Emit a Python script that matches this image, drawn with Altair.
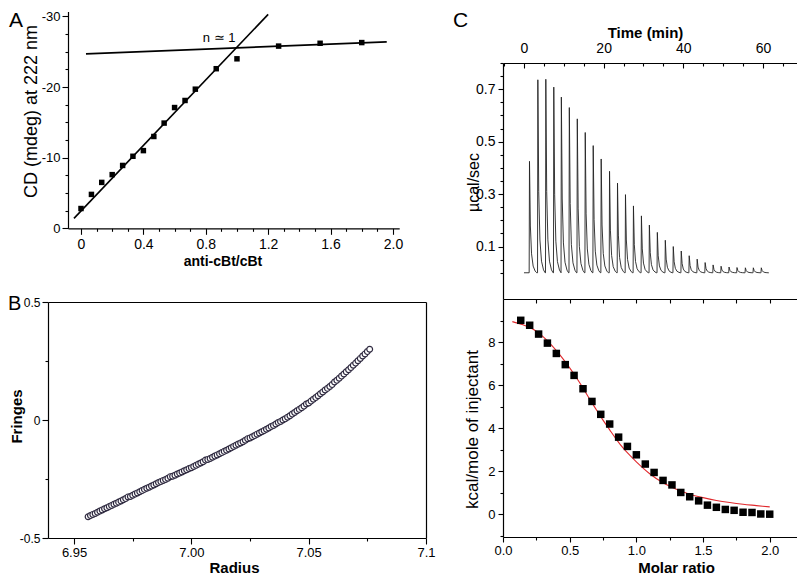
import altair as alt
import pandas as pd

W, H = 789, 568
FONT = "Liberation Sans"

# ---------------- Panel A (CD titration) ----------------
ratio_A = [0, 0.067, 0.133, 0.2, 0.267, 0.333, 0.4, 0.467, 0.533, 0.6, 0.667,
           0.733, 0.867, 1.0, 1.267, 1.533, 1.8]
cd_A = [-2.8, -4.8, -6.5, -7.6, -8.9, -10.2, -11.0, -13.0, -14.9, -17.1, -18.1,
        -19.7, -22.6, -24.0, -25.8, -26.2, -26.3]
fit_seg = ["rise", "rise", "plateau", "plateau"]
fit_x_A = [-0.045, 1.20, 0.032, 1.96]
fit_y_A = [-1.4, -30.3, -24.7, -26.4]
note_x_A = [0.885]
note_y_A = [-26.9]
note_text_A = ["n \u2243 1"]

# ---------------- Panel B (AUC fringes) ----------------
radius_B = [6.956, 6.957, 6.958, 6.959, 6.960, 6.961, 6.962, 6.963, 6.964, 6.965,
            6.966, 6.967, 6.968, 6.969, 6.970, 6.971, 6.972, 6.973, 6.974, 6.975,
            6.976, 6.977, 6.978, 6.979, 6.980, 6.981, 6.982, 6.983, 6.984, 6.985,
            6.986, 6.987, 6.988, 6.989, 6.990, 6.991, 6.992, 6.993, 6.994, 6.995,
            6.996, 6.997, 6.998, 6.999, 7.000, 7.001, 7.002, 7.003, 7.004, 7.005,
            7.006, 7.007, 7.008, 7.009, 7.010, 7.011, 7.012, 7.013, 7.014, 7.015,
            7.016, 7.017, 7.018, 7.019, 7.020, 7.021, 7.022, 7.023, 7.024, 7.025,
            7.026, 7.027, 7.028, 7.029, 7.030, 7.031, 7.032, 7.033, 7.034, 7.035,
            7.036, 7.037, 7.038, 7.039, 7.040, 7.041, 7.042, 7.043, 7.044, 7.045,
            7.046, 7.047, 7.048, 7.049, 7.050, 7.051, 7.052, 7.053, 7.054, 7.055,
            7.056, 7.057, 7.058, 7.059, 7.060, 7.061, 7.062, 7.063, 7.064, 7.065,
            7.066, 7.067, 7.068, 7.069, 7.070, 7.071, 7.072, 7.073, 7.074, 7.075,
            7.076]
fringes_B = [-0.410, -0.405, -0.400, -0.396, -0.391, -0.386, -0.381, -0.376, -0.372, -0.367,
             -0.362, -0.357, -0.353, -0.348, -0.343, -0.338, -0.333, -0.326, -0.324, -0.319,
             -0.314, -0.309, -0.304, -0.299, -0.294, -0.289, -0.285, -0.280, -0.275, -0.270,
             -0.265, -0.261, -0.256, -0.252, -0.247, -0.240, -0.238, -0.234, -0.229, -0.225,
             -0.220, -0.215, -0.211, -0.206, -0.202, -0.197, -0.192, -0.187, -0.182, -0.177,
             -0.170, -0.167, -0.163, -0.158, -0.153, -0.148, -0.143, -0.138, -0.133, -0.128,
             -0.123, -0.118, -0.112, -0.107, -0.102, -0.097, -0.092, -0.086, -0.079, -0.076,
             -0.071, -0.066, -0.060, -0.055, -0.050, -0.045, -0.039, -0.034, -0.028, -0.023,
             -0.017, -0.011, -0.006, 0.000, 0.005, 0.012, 0.018, 0.025, 0.032, 0.039,
             0.045, 0.052, 0.059, 0.068, 0.072, 0.080, 0.088, 0.095, 0.103, 0.111,
             0.119, 0.127, 0.134, 0.142, 0.150, 0.161, 0.168, 0.177, 0.186, 0.195,
             0.204, 0.213, 0.222, 0.232, 0.241, 0.251, 0.261, 0.271, 0.280, 0.290,
             0.300]

# ---------------- Panel C top (ITC raw heat) ----------------
inj_time = [1.3, 3.4, 5.4, 7.4, 9.3, 11.3, 13.3, 15.3, 17.3, 19.3, 21.4, 23.4, 25.4,
            27.4, 29.4, 31.4, 33.4, 35.4, 37.4, 39.4, 41.4, 43.4, 45.4, 47.4, 49.4,
            51.4, 53.4, 55.5, 57.5, 59.5]
peak_height = [0.425, 0.736, 0.738, 0.708, 0.670, 0.630, 0.587, 0.535, 0.485, 0.434,
               0.387, 0.342, 0.298, 0.255, 0.217, 0.182, 0.154, 0.124, 0.100, 0.083,
               0.065, 0.052, 0.039, 0.030, 0.025, 0.022, 0.020, 0.019, 0.019, 0.019]
peak_shape_dt = [0.0, 0.08, 0.3, 0.6, 1.0, 1.5, 1.9]
peak_shape_frac = [0.0, 1.0, 0.42, 0.17, 0.06, 0.015, 0.0]
baseline_time = [0.0, 61.3]

# ---------------- Panel C bottom (ITC isotherm) ----------------
molar = [0.133, 0.2, 0.267, 0.333, 0.4, 0.467, 0.533, 0.6, 0.667, 0.733, 0.8, 0.867,
         0.933, 1.0, 1.067, 1.133, 1.2, 1.267, 1.333, 1.4, 1.467, 1.533, 1.6, 1.667,
         1.733, 1.8, 1.867, 1.933, 2.0]
kcal = [9.01, 8.78, 8.37, 7.95, 7.47, 6.95, 6.45, 5.83, 5.24, 4.64, 4.19, 3.58,
        3.15, 2.76, 2.33, 1.94, 1.57, 1.36, 1.01, 0.81, 0.62, 0.42, 0.32, 0.22,
        0.18, 0.09, 0.08, 0.01, 0.0]
fit_molar = [0.07, 0.15, 0.2, 0.25, 0.3, 0.35, 0.4, 0.45, 0.5, 0.55, 0.6, 0.65, 0.7,
             0.75, 0.8, 0.85, 0.9, 0.95, 1.0, 1.1, 1.2, 1.3, 1.4, 1.5, 1.6, 1.7, 1.8,
             1.9, 2.0]
fit_kcal = [8.95, 8.80, 8.68, 8.50, 8.25, 7.95, 7.60, 7.22, 6.80, 6.35, 5.86, 5.35,
            4.85, 4.37, 3.92, 3.48, 3.08, 2.74, 2.43, 1.88, 1.46, 1.16, 0.93, 0.77,
            0.64, 0.54, 0.46, 0.40, 0.34]

panel_letters = ["A", "B", "C"]

# ---------------- tables ----------------
dfA = pd.DataFrame({"ratio": ratio_A, "cd": cd_A})
dfA_fit = pd.DataFrame({"seg": fit_seg, "ratio": fit_x_A, "cd": fit_y_A})
dfA_note = pd.DataFrame({"ratio": note_x_A, "cd": note_y_A, "txt": note_text_A})
dfB = pd.DataFrame({"radius": radius_B, "fringes": fringes_B})

rows = [(baseline_time[0], 0.0)]
for t0, h in zip(inj_time, peak_height):
    for dt, f in zip(peak_shape_dt, peak_shape_frac):
        rows.append((t0 + dt, h * f))
rows.append((baseline_time[1], 0.0))
dfCt = pd.DataFrame(rows, columns=["time", "power"])
dfCt["k"] = list(range(len(dfCt)))

dfCb = pd.DataFrame({"molar": molar, "kcal": kcal})
dfCb_fit = pd.DataFrame({"molar": fit_molar, "kcal": fit_kcal})


def sc(domain, rng):
    return alt.Scale(domain=domain, range=rng, nice=False, zero=False)


def tick_axis(orient, offset, values, size, domain=False):
    return alt.Axis(orient=orient, offset=offset, values=values, tickSize=size,
                    labels=False, domain=domain, grid=False, title=None)


# scales (pixel ranges inside the canvas)
xA = sc([-0.0833, 2.04], [60, 391.2])
yA = sc([-30.7, 0], [3.5, 220.3])
xB = sc([6.9389, 7.1], [40, 418])
yB = sc([-0.5, 0.5], [530, 294])
xCt = sc([-5.27, 69.8], [495, 794])
yCt = sc([-0.1, 0.8], [291, 55])
xCb = sc([0, 2.242], [495, 794])
yCb = sc([-1.06, 10.0], [529, 291])

layers = []

# ---- A ----
layers.append(
    alt.Chart(dfA).mark_square(size=30, color="black", opacity=1).encode(
        x=alt.X("ratio:Q", scale=xA, axis=alt.Axis(
            orient="bottom", offset=220.3 - H, values=[0, 0.4, 0.8, 1.2, 1.6, 2.0],
            tickSize=6, labelFontSize=14, labelPadding=3,
            labelExpr="datum.value == 0 ? '0' : format(datum.value, '.1f')",
            title="anti-cBt/cBt", titleFontSize=14, titleFontWeight="bold",
            titleX=214.5, titleY=33, titleBaseline="middle", titleAlign="center")),
        y=alt.Y("cd:Q", scale=yA, axis=alt.Axis(
            orient="left", offset=-60, values=[0, -10, -20, -30], tickSize=6,
            labelFontSize=13, labelPadding=2, labelExpr="toString(datum.value)",
            title="CD (mdeg) at 222 nm", titleFontSize=18, titleFontWeight="normal",
            titleX=-37, titleY=103, titleBaseline="middle", titleAlign="center")),
    )
)
layers.append(
    alt.Chart(dfA_fit).mark_line(color="black", strokeWidth=1.6).encode(
        x=alt.X("ratio:Q", scale=xA, axis=None),
        y=alt.Y("cd:Q", scale=yA, axis=None),
        detail="seg:N",
    )
)
layers.append(
    alt.Chart(dfA_note).mark_text(fontSize=13, font=FONT, color="black").encode(
        x=alt.X("ratio:Q", scale=xA, axis=None),
        y=alt.Y("cd:Q", scale=yA, axis=None),
        text="txt:N",
    )
)
layers.append(
    alt.Chart(dfA).mark_point(opacity=0).encode(
        x=alt.X("ratio:Q", scale=xA, axis=tick_axis(
            "bottom", 220.3 - H,
            [0.1, 0.2, 0.3, 0.5, 0.6, 0.7, 0.9, 1.0, 1.1, 1.3, 1.4, 1.5, 1.7, 1.8, 1.9], 3)),
        y=alt.Y("cd:Q", scale=yA, axis=tick_axis(
            "left", -60,
            [-2.5, -5, -7.5, -12.5, -15, -17.5, -22.5, -25, -27.5], 3)),
    )
)

# ---- B ----
layers.append(
    alt.Chart(dfB).mark_circle(size=34, opacity=1, fill="white", stroke="#2f2a40",
                               strokeWidth=1.2).encode(
        x=alt.X("radius:Q", scale=xB, axis=alt.Axis(
            orient="bottom", offset=530 - H, values=[6.95, 7.0, 7.05, 7.1], tickSize=6,
            labelFontSize=13, labelPadding=2,
            labelExpr="datum.value == 7.1 ? '7.1' : format(datum.value, '.2f')",
            title="Radius", titleFontSize=15, titleFontWeight="bold",
            titleX=226, titleY=34, titleBaseline="alphabetic", titleAlign="center")),
        y=alt.Y("fringes:Q", scale=yB, axis=alt.Axis(
            orient="left", offset=-40, values=[-0.5, 0, 0.5], tickSize=6,
            labelFontSize=12, labelPadding=2, labelExpr="toString(datum.value)",
            title="Fringes", titleFontSize=15, titleFontWeight="bold",
            titleX=-32, titleY=408, titleBaseline="middle", titleAlign="center")),
    )
)
layers.append(
    alt.Chart(dfB).mark_point(opacity=0).encode(
        x=alt.X("radius:Q", scale=xB, axis=tick_axis("bottom", 530 - H, [6.975, 7.025, 7.075], 3)),
        y=alt.Y("fringes:Q", scale=yB, axis=tick_axis("left", -40, [-0.25, 0.25], 3)),
    )
)
layers.append(
    alt.Chart(dfB).mark_point(opacity=0).encode(
        x=alt.X("radius:Q", scale=xB, axis=tick_axis("top", -294, [7.0], 0, domain=True)),
        y=alt.Y("fringes:Q", scale=yB, axis=tick_axis("right", 418 - W, [0], 0, domain=True)),
    )
)

# ---- C top ----
layers.append(
    alt.Chart(dfCt).mark_line(color="#222222", strokeWidth=0.9).encode(
        x=alt.X("time:Q", scale=xCt, axis=alt.Axis(
            orient="top", offset=-55, values=[0, 20, 40, 60], tickSize=0,
            labelFontSize=14, labelPadding=8, labelExpr="toString(datum.value)",
            title="Time (min)", titleFontSize=15, titleFontWeight="bold",
            titleX=637, titleY=-31, titleBaseline="middle", titleAlign="center")),
        y=alt.Y("power:Q", scale=yCt, axis=alt.Axis(
            orient="left", offset=-495, values=[0.1, 0.3, 0.5, 0.7], tickSize=5,
            labelFontSize=14, labelPadding=3, labelExpr="format(datum.value, '.1f')",
            title="\u00b5cal/sec", titleFontSize=16, titleFontWeight="normal",
            titleX=-30, titleY=174, titleBaseline="middle", titleAlign="center")),
        order="k:Q",
    )
)
layers.append(
    alt.Chart(dfCt).mark_point(opacity=0).encode(
        x=alt.X("time:Q", scale=xCt, axis=tick_axis("bottom", 55 - H, [0, 20, 40, 60], 5)),
        y=alt.Y("power:Q", scale=yCt, axis=tick_axis(
            "left", -495, [0.0, 0.05, 0.15, 0.2, 0.25, 0.35, 0.4, 0.45, 0.55, 0.6, 0.65, 0.75, 0.8], 3)),
    )
)
layers.append(
    alt.Chart(dfCt).mark_point(opacity=0).encode(
        x=alt.X("time:Q", scale=xCt, axis=tick_axis(
            "bottom", 55 - H, [-5, 5, 10, 15, 25, 30, 35, 45, 50, 55, 65], 3)),
        y=alt.Y("power:Q", scale=yCt, axis=tick_axis(
            "left", -794, [0.0, 0.1, 0.2, 0.3, 0.4, 0.5, 0.6, 0.7], 5, domain=True)),
    )
)
layers.append(
    alt.Chart(dfCt).mark_point(opacity=0).encode(
        x=alt.X("time:Q", scale=xCt, axis=tick_axis("bottom", 291 - H, [0], 0, domain=True)),
        y=alt.Y("power:Q", scale=yCt, axis=tick_axis(
            "left", -794, [-0.05, 0.05, 0.15, 0.25, 0.35, 0.45, 0.55, 0.65, 0.75], 3)),
    )
)

# ---- C bottom ----
layers.append(
    alt.Chart(dfCb_fit).mark_line(color="#e0282c", strokeWidth=1.1, interpolate="monotone").encode(
        x=alt.X("molar:Q", scale=xCb, axis=None),
        y=alt.Y("kcal:Q", scale=yCb, axis=None),
    )
)
layers.append(
    alt.Chart(dfCb).mark_square(size=56, color="black", opacity=1).encode(
        x=alt.X("molar:Q", scale=xCb, axis=alt.Axis(
            orient="bottom", offset=529 - H, values=[0, 0.5, 1.0, 1.5, 2.0], tickSize=5,
            labelFontSize=13, labelPadding=2, labelExpr="format(datum.value, '.1f')",
            title="Molar ratio", titleFontSize=15, titleFontWeight="bold",
            titleX=668, titleY=35, titleBaseline="alphabetic", titleAlign="center")),
        y=alt.Y("kcal:Q", scale=yCb, axis=alt.Axis(
            orient="left", offset=-495, values=[0, 2, 4, 6, 8], tickSize=5,
            labelFontSize=13, labelPadding=3, labelExpr="toString(datum.value)",
            title="kcal/mole of injectant", titleFontSize=17, titleFontWeight="normal",
            titleX=-31, titleY=421, titleBaseline="middle", titleAlign="center")),
    )
)
layers.append(
    alt.Chart(dfCb).mark_point(opacity=0).encode(
        x=alt.X("molar:Q", scale=xCb, axis=tick_axis("bottom", 529 - H, [0.25, 0.75, 1.25, 1.75, 2.25], 3)),
        y=alt.Y("kcal:Q", scale=yCb, axis=tick_axis("left", -495, [-1, 1, 3, 5, 7, 9], 3)),
    )
)
layers.append(
    alt.Chart(dfCb).mark_point(opacity=0).encode(
        x=alt.X("molar:Q", scale=xCb, axis=tick_axis(
            "bottom", 291 - H, [0.25, 0.5, 0.75, 1.0, 1.25, 1.5, 1.75, 2.0], 4)),
        y=alt.Y("kcal:Q", scale=yCb, axis=tick_axis(
            "left", -794, [-1, 0, 1, 2, 3, 4, 5, 6, 7, 8, 9], 4, domain=True)),
    )
)

# ---- panel letters ----
letter_pos = [(1, 2, 21), (0, 286, 20), (445, 2, 21)]
for letter, (px, py, fs) in zip(panel_letters, letter_pos):
    layers.append(
        alt.Chart(pd.DataFrame({"t": [letter]})).mark_text(
            fontSize=fs, font=FONT, align="left", baseline="top", color="black"
        ).encode(text="t:N", x=alt.value(px), y=alt.value(py))
    )

chart = alt.layer(*layers).resolve_scale(
    x="independent", y="independent"
).properties(
    width=W, height=H, autosize=alt.AutoSizeParams(type="none"), padding=0,
    background="white",
).configure_view(stroke=None).configure_axis(
    grid=False, domainColor="black", tickColor="black", labelColor="black",
    titleColor="black", labelFont=FONT, titleFont=FONT, domainWidth=1.2,
    tickWidth=1.1, labelFlush=False, labelOverlap=False,
).configure_text(font=FONT)

chart.save("out.html", embed_options={"renderer": "svg", "actions": False})
